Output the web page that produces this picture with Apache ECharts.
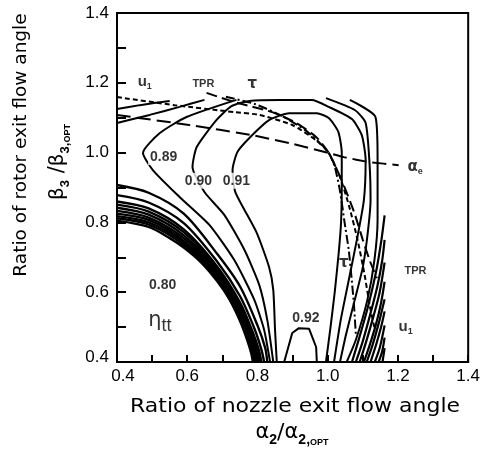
<!DOCTYPE html>
<html>
<head>
<meta charset="utf-8">
<script src="https://cdn.jsdelivr.net/npm/echarts@6/dist/echarts.min.js"></script>
<style>
  html, body { margin: 0; padding: 0; background: #fff; }
  #chart { width: 483px; height: 457px; }
</style>
</head>
<body>
<div id="chart"></div>
<script>
// Axis tick labels
const xTickLabels = ['0.4', '0.6', '0.8', '1.0', '1.2', '1.4'];
const yTickLabels = ['0.4', '0.6', '0.8', '1.0', '1.2', '1.4'];

// Efficiency contours, [alpha2/alpha2opt, beta3/beta3opt]
const lowerLeftBand = [
  [[0.4,0.805],[0.49,0.787],[0.55,0.755],[0.59,0.728],[0.64,0.685],[0.685,0.632],[0.72,0.58],[0.75,0.518],[0.77,0.465],[0.782,0.426],[0.787,0.4]],
  [[0.4,0.812],[0.49,0.794],[0.59,0.735],[0.685,0.637],[0.75,0.525],[0.772,0.468],[0.785,0.427],[0.79,0.4]],
  [[0.4,0.818],[0.49,0.800],[0.59,0.741],[0.685,0.642],[0.75,0.531],[0.774,0.47],[0.787,0.428],[0.793,0.4]],
  [[0.4,0.825],[0.49,0.807],[0.59,0.747],[0.685,0.648],[0.75,0.538],[0.776,0.473],[0.79,0.429],[0.796,0.4]],
  [[0.4,0.833],[0.49,0.814],[0.59,0.755],[0.685,0.654],[0.75,0.546],[0.778,0.476],[0.793,0.43],[0.8,0.4]],
  [[0.4,0.842],[0.49,0.822],[0.59,0.763],[0.685,0.66],[0.75,0.554],[0.781,0.479],[0.796,0.431],[0.803,0.4]],
  [[0.4,0.851],[0.49,0.831],[0.59,0.772],[0.685,0.667],[0.75,0.563],[0.783,0.483],[0.8,0.432],[0.807,0.4]],
  [[0.4,0.860],[0.49,0.84],[0.59,0.78],[0.685,0.674],[0.75,0.571],[0.786,0.487],[0.804,0.434],[0.811,0.4]],
  [[0.4,0.878],[0.49,0.857],[0.59,0.798],[0.685,0.688],[0.75,0.589],[0.792,0.494],[0.811,0.436],[0.819,0.4]],
  [[0.4,0.907],[0.49,0.885],[0.59,0.825],[0.685,0.71],[0.75,0.617],[0.8,0.505],[0.822,0.44],[0.828,0.4]]
];
const eta089Left = [[0.74,1.151],[0.598,1.102],[0.522,1.056],[0.474,0.999],[0.502,0.95],[0.578,0.873],[0.663,0.793],[0.734,0.692],[0.791,0.578],[0.819,0.492],[0.836,0.4]];
const eta089Right = [[0.995,1.156],[1.077,1.122],[1.108,1.085],[1.119,0.97],[1.122,0.864],[1.114,0.77],[1.1,0.672],[1.077,0.578],[1.052,0.478],[1.035,0.4]];
const eta090 = [[0.845,0.4],[0.828,0.52],[0.805,0.621],[0.763,0.721],[0.706,0.821],[0.649,0.887],[0.615,0.959],[0.627,1.016],[0.683,1.093],[0.726,1.133],[0.777,1.148],[0.862,1.151],[0.955,1.151],[1.003,1.131],[1.069,1.096],[1.097,1.05],[1.108,0.979],[1.103,0.864],[1.083,0.75],[1.06,0.635],[1.037,0.52],[1.018,0.4]];
const eta091 = [[0.855,0.4],[0.85,0.492],[0.845,0.606],[0.833,0.672],[0.797,0.772],[0.737,0.887],[0.729,0.95],[0.743,1.002],[0.777,1.042],[0.833,1.093],[0.89,1.113],[0.969,1.113],[1.003,1.099],[1.03,1.06],[1.04,1.0],[1.04,0.9],[1.038,0.8],[1.032,0.72],[1.02,0.6],[1.008,0.5],[0.995,0.4]];
const eta092 = [[0.876,0.4],[0.899,0.483],[0.918,0.497],[0.947,0.495],[0.967,0.443],[0.969,0.4]];
const eta088Left = [[0.4,1.085],[0.493,1.108],[0.578,1.131],[0.649,1.151]];
const eta088Right = [[1.063,1.151],[1.136,1.102],[1.142,0.979],[1.142,0.807],[1.133,0.692],[1.113,0.578],[1.08,0.463],[1.054,0.4]];
const eta087Left = [[0.4,1.125],[0.465,1.136],[0.55,1.148]];
const lowerRightBand = [
  [[1.069,0.4],[1.09,0.47],[1.115,0.56],[1.138,0.66],[1.153,0.75],[1.162,0.82]],
  [[1.08,0.4],[1.1,0.46],[1.122,0.54],[1.142,0.62],[1.155,0.69],[1.162,0.75]],
  [[1.091,0.4],[1.11,0.46],[1.13,0.53],[1.148,0.6],[1.162,0.685]],
  [[1.103,0.4],[1.12,0.45],[1.138,0.51],[1.152,0.57],[1.162,0.63]],
  [[1.111,0.4],[1.128,0.45],[1.145,0.51],[1.162,0.58]],
  [[1.122,0.4],[1.138,0.45],[1.152,0.5],[1.162,0.545]],
  [[1.134,0.4],[1.148,0.44],[1.162,0.505]],
  [[1.145,0.4],[1.155,0.43],[1.162,0.47]],
  [[1.156,0.4],[1.162,0.44]]
];

// Optimum loci of the other parameters
const lociU1 = [[0.4,1.159],[0.564,1.136],[0.734,1.116],[0.805,1.108],[0.899,1.079],[0.966,1.036],[1.003,0.999],[1.035,0.93],[1.06,0.85],[1.085,0.75],[1.105,0.65],[1.12,0.56],[1.135,0.49]];
const lociTPR = [[0.655,1.171],[0.734,1.145],[0.842,1.116],[0.91,1.085],[0.967,1.045],[1.003,0.999],[1.04,0.92],[1.075,0.83],[1.1,0.75],[1.12,0.69],[1.14,0.64]];
const lociTau = [[0.71,1.16],[0.79,1.14],[0.87,1.105],[0.935,1.065],[0.975,1.03],[1.003,0.999],[1.02,0.96],[1.035,0.89],[1.048,0.8],[1.06,0.72],[1.068,0.64],[1.075,0.56],[1.08,0.48]];
const lociAlphaE = [[0.4,1.108],[0.6,1.08],[0.785,1.05],[0.9,1.025],[1.003,0.999],[1.046,0.987],[1.117,0.973],[1.202,0.964]];

// Text placed in the plot area
const levelLabels = [
  { text: '0.89', at: [0.533, 0.987] },
  { text: '0.90', at: [0.632, 0.919] },
  { text: '0.91', at: [0.74, 0.919] },
  { text: '0.80', at: [0.530, 0.621] },
  { text: '0.92', at: [0.938, 0.526] }
];
const curveLabels = [
  { text: 'u1', at: [0.479, 1.202] },
  { text: 'TPR', at: [0.646, 1.197] },
  { text: 'τ', at: [0.785, 1.197] },
  { text: 'τ', at: [1.046, 0.684] },
  { text: 'TPR', at: [1.25, 0.661] },
  { text: 'u1', at: [1.222, 0.5] },
  { text: 'αe', at: [1.249, 0.959] }
];
const etaLabel = { text: 'ηtt', at: [0.522, 0.52] };

const BLACK = '#000';
const SANS = '"Liberation Sans", Arial, sans-serif';
const GREEK = '"DejaVu Sans", sans-serif';

function lineSeries(data, type, smooth, width) {
  return {
    type: 'line',
    data: data,
    symbol: 'none',
    showSymbol: false,
    smooth: smooth || false,
    silent: true,
    clip: true,
    z: 2,
    lineStyle: { color: BLACK, width: width || 2, type: type || 'solid', cap: 'butt' }
  };
}

const series = [];
lowerLeftBand.forEach(d => series.push(lineSeries(d, 'solid', 0.3, 2.4)));
lowerRightBand.forEach(d => series.push(lineSeries(d, 'solid', 0.3, 2.2)));
[eta089Left, eta089Right, eta090, eta091, eta088Left, eta088Right, eta087Left]
  .forEach(d => series.push(lineSeries(d, 'solid', 0.2)));
series.push(lineSeries(eta092, 'solid', false));
series.push(lineSeries(lociU1, [5, 3], 0.2));
series.push(lineSeries(lociTPR, [11, 5], 0.2));
series.push(lineSeries(lociTau, [9, 3, 2, 3], 0.2));
series.push(lineSeries(lociAlphaE, [14, 6], 0.1));

function curveText(t) {
  if (t === 'u1') return '{u|u}{sub|1}';
  if (t === 'αe') return '{g|α}{sub|e}';
  if (t === 'τ') return '{g|τ}';
  return '{b|' + t + '}';
}

series.push({
  type: 'scatter',
  symbolSize: 0,
  silent: true,
  z: 5,
  data: levelLabels.map(l => ({
    value: l.at,
    label: {
      show: true, position: 'inside', formatter: l.text,
      color: BLACK, fontFamily: SANS, fontWeight: 'bold', fontSize: 14,
      backgroundColor: '#fff', padding: [1, 2]
    }
  })).concat(curveLabels.map(l => ({
    value: l.at,
    label: {
      show: true, position: 'inside', formatter: curveText(l.text),
      color: BLACK,
      rich: {
        b: { fontFamily: SANS, fontWeight: 'bold', fontSize: 11, color: BLACK },
        u: { fontFamily: SANS, fontWeight: 'bold', fontSize: 15, lineHeight: 18, color: BLACK },
        g: { fontFamily: GREEK, fontWeight: 'bold', fontSize: 15, lineHeight: 18, color: BLACK },
        sub: { fontFamily: SANS, fontWeight: 'bold', fontSize: 9, lineHeight: 9, verticalAlign: 'bottom', color: BLACK }
      }
    }
  }))).concat([{
    value: etaLabel.at,
    label: {
      show: true, position: 'inside', formatter: '{e|η}{t|tt}',
      rich: {
        e: { fontFamily: GREEK, fontSize: 21, lineHeight: 30, color: BLACK },
        t: { fontFamily: SANS, fontSize: 18, lineHeight: 18, verticalAlign: 'bottom', color: BLACK }
      }
    }
  }])
});

const tickFont = { color: BLACK, fontFamily: SANS, fontSize: 17 };

const option = {
  animation: false,
  backgroundColor: '#fff',
  grid: { left: 117, right: 13, top: 13, bottom: 95, show: true, borderColor: BLACK, borderWidth: 2, containLabel: false },
  xAxis: {
    type: 'value', min: 0.4, max: 1.4, interval: 0.1,
    axisLine: { show: true, lineStyle: { color: BLACK, width: 2 } },
    axisTick: { show: true, inside: true, length: 7, lineStyle: { color: BLACK, width: 2 } },
    splitLine: { show: false },
    axisLabel: Object.assign({
      margin: 6,
      formatter: v => {
        const s = v.toFixed(1);
        if (!xTickLabels.includes(s)) return '';
        return s === '0.4' ? '{first|0.4}' : s;
      },
      rich: { first: Object.assign({ padding: [0, 0, 0, 12] }, tickFont) }
    }, tickFont)
  },
  yAxis: {
    type: 'value', min: 0.4, max: 1.4, interval: 0.1,
    axisLine: { show: true, lineStyle: { color: BLACK, width: 2 } },
    axisTick: { show: true, inside: true, length: 9, lineStyle: { color: BLACK, width: 2 } },
    splitLine: { show: false },
    axisLabel: Object.assign({
      margin: 8,
      formatter: v => {
        const s = v.toFixed(1);
        if (!yTickLabels.includes(s)) return '';
        return s === '0.4' ? '{last|0.4}' : s;
      },
      rich: { last: Object.assign({ padding: [0, 0, 10, 0] }, tickFont) }
    }, tickFont)
  },
  graphic: [
    {
      type: 'text', x: 295, y: 407, scaleX: 1.1,
      style: { text: 'Ratio of nozzle exit flow angle', font: '20px "DejaVu Sans", sans-serif', fill: BLACK, textAlign: 'center', textVerticalAlign: 'middle' }
    },
    {
      type: 'text', x: 292, y: 433,
      style: {
        text: '{g|α}{s|2}{sl|/}{g|α}{s|2,}{o|OPT}',
        textAlign: 'center', textVerticalAlign: 'middle', fill: BLACK,
        rich: {
          g: { font: '21px "DejaVu Sans", sans-serif', lineHeight: 28, fill: BLACK },
          sl: { font: '22px "DejaVu Sans", sans-serif', lineHeight: 28, fill: BLACK },
          s: { font: 'bold 14px "Liberation Sans", Arial, sans-serif', lineHeight: 16, verticalAlign: 'bottom', fill: BLACK },
          o: { font: 'bold 9px "Liberation Sans", Arial, sans-serif', lineHeight: 11, verticalAlign: 'bottom', fill: BLACK }
        }
      }
    },
    {
      type: 'text', x: 21, y: 145, rotation: Math.PI / 2,
      style: { text: 'Ratio of rotor exit flow angle', font: '18.5px "DejaVu Sans", sans-serif', fill: BLACK, textAlign: 'center', textVerticalAlign: 'middle' }
    },
    {
      type: 'text', x: 58, y: 162, rotation: Math.PI / 2,
      style: {
        text: '{g|β}{s|3}{sl| /}{g|β}{s|3,}{o|OPT}',
        textAlign: 'center', textVerticalAlign: 'middle', fill: BLACK,
        rich: {
          g: { font: '20px "DejaVu Sans", sans-serif', lineHeight: 28, fill: BLACK },
          sl: { font: '21px "DejaVu Sans", sans-serif', lineHeight: 28, fill: BLACK },
          s: { font: 'bold 13px "Liberation Sans", Arial, sans-serif', lineHeight: 15, verticalAlign: 'bottom', fill: BLACK },
          o: { font: 'bold 9px "Liberation Sans", Arial, sans-serif', lineHeight: 11, verticalAlign: 'bottom', fill: BLACK }
        }
      }
    }
  ],
  series: series
};

const chart = echarts.init(document.getElementById('chart'), null, { renderer: 'canvas' });
chart.setOption(option);
</script>
</body>
</html>
